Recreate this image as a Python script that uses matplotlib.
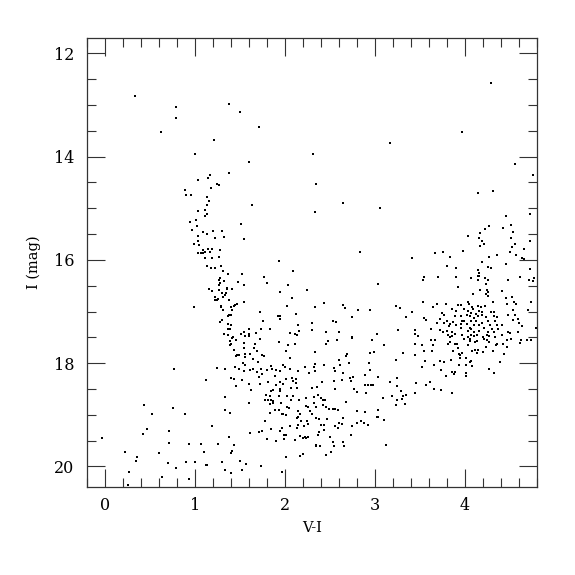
import numpy as np
import matplotlib
matplotlib.use("Agg")
import matplotlib.pyplot as plt
from matplotlib.ticker import MultipleLocator

# (V-I, I) pairs, grouped by region of the diagram
bright_stars = [
    (0.33, 12.83), (0.79, 13.04), (1.38, 12.98), (0.79, 13.26), (0.62, 13.53),
    (1.21, 13.67), (1.00, 13.95), (1.38, 14.32), (1.17, 14.35), (1.15, 14.41),
    (1.03, 14.46), (1.25, 14.53), (1.27, 14.55), (1.18, 14.60),
    (1.50, 13.14), (1.71, 13.43), (2.31, 13.94), (1.60, 14.11), (2.35, 14.53),
    (4.29, 12.57), (3.97, 13.53), (3.17, 13.74), (4.55, 14.15), (4.75, 14.36),
]

blue_branch = [
    (0.89, 14.64), (0.90, 14.75), (0.96, 14.74), (1.14, 14.79), (1.16, 14.86),
    (1.14, 14.94), (1.04, 15.06), (1.11, 15.04), (1.14, 15.11), (1.11, 15.15),
    (1.01, 15.23), (0.95, 15.26), (1.02, 15.35), (1.09, 15.46), (1.20, 15.44),
    (1.30, 15.44), (0.97, 15.42), (1.14, 15.50), (1.03, 15.53), (1.22, 15.58),
    (1.32, 15.56), (1.04, 15.63), (0.99, 15.70), (1.05, 15.72), (1.15, 15.78),
    (1.19, 15.78), (1.28, 15.81), (1.09, 15.80), (1.11, 15.84), (1.09, 15.86),
    (1.07, 15.86), (1.03, 15.87), (1.17, 15.84), (1.11, 15.97), (1.19, 15.97),
    (1.27, 15.95), (1.13, 16.11), (1.18, 16.15), (1.22, 16.16), (1.29, 16.12),
    (1.31, 16.22), (1.37, 16.27), (1.28, 16.35), (1.27, 16.38), (1.32, 16.40),
    (1.28, 16.44), (1.27, 16.48), (1.16, 16.56), (1.19, 16.60), (1.27, 16.58),
    (1.36, 16.54), (1.36, 16.57), (1.41, 16.56), (1.30, 16.65), (1.35, 16.65),
    (1.33, 16.68), (1.22, 16.72), (1.31, 16.72), (1.26, 16.76), (1.25, 16.78),
    (1.22, 16.78), (1.38, 16.78), (0.99, 16.91), (1.29, 16.89), (1.29, 16.91),
    (1.40, 16.91), (1.43, 16.89), (1.45, 16.87), (1.31, 16.98), (1.41, 16.98),
    (1.40, 17.06), (1.38, 17.06), (1.37, 17.09), (1.30, 17.17), (1.28, 17.21),
    (1.37, 17.25), (1.40, 17.27), (1.39, 17.33), (1.37, 17.34), (1.32, 17.43),
    (1.37, 17.45), (1.42, 17.49),
]

middle_field = [
    (1.63, 14.94), (2.64, 14.89), (3.06, 14.99), (2.33, 15.07), (1.51, 15.31),
    (1.55, 15.59), (2.83, 15.84), (1.93, 16.02), (2.09, 16.22), (1.52, 16.28),
    (1.77, 16.33), (1.48, 16.42), (1.80, 16.44), (1.55, 16.49), (2.03, 16.49),
    (3.03, 16.47), (1.95, 16.63), (2.24, 16.59), (2.08, 16.73), (1.47, 16.85),
    (1.55, 16.82), (2.43, 16.84), (2.02, 16.89), (2.33, 16.91), (2.65, 16.87),
    (2.67, 16.93), (2.81, 16.98), (2.94, 16.98), (1.72, 17.00), (2.12, 17.05),
    (1.92, 17.09), (1.95, 17.09), (1.94, 17.15), (2.74, 17.10), (1.76, 17.18),
    (2.53, 17.19), (2.57, 17.21), (2.30, 17.22), (2.15, 17.27), (1.73, 17.33),
    (1.83, 17.34), (1.60, 17.34), (2.30, 17.36), (2.16, 17.38), (1.54, 17.40),
    (1.68, 17.41), (2.06, 17.42), (2.46, 17.40), (2.60, 17.40), (3.02, 17.43),
    (1.51, 17.44), (1.60, 17.44), (2.11, 17.43), (2.13, 17.45), (1.56, 17.47),
    (1.60, 17.48), (2.75, 17.50),
]

red_branch = [
    (4.14, 14.71), (4.31, 14.67), (4.72, 15.11), (4.46, 15.15), (4.51, 15.32),
    (4.27, 15.35), (4.22, 15.40), (4.42, 15.39), (4.53, 15.45), (4.17, 15.48),
    (4.03, 15.54), (4.16, 15.57), (4.51, 15.58), (4.19, 15.63), (4.72, 15.64),
    (4.21, 15.69), (4.55, 15.69), (4.17, 15.73), (4.52, 15.75), (4.66, 15.78),
    (3.98, 15.82), (4.50, 15.84), (3.67, 15.87), (3.75, 15.85), (4.35, 15.90),
    (4.57, 15.90), (3.41, 15.96), (3.83, 15.94), (4.27, 15.94), (4.63, 15.96),
    (4.65, 15.99), (4.19, 16.04), (4.45, 16.08), (3.80, 16.12), (3.90, 16.15),
    (4.26, 16.13), (4.29, 16.16), (4.72, 16.17), (4.14, 16.20), (4.15, 16.26),
    (4.14, 16.31), (4.15, 16.31), (3.55, 16.34), (3.53, 16.39), (3.70, 16.34),
    (3.90, 16.34), (4.07, 16.36), (4.22, 16.36), (4.25, 16.39), (4.14, 16.38),
    (4.48, 16.38), (4.61, 16.33), (4.71, 16.39), (4.75, 16.40), (4.77, 16.36),
    (4.23, 16.47), (3.92, 16.53), (4.17, 16.58), (4.24, 16.59), (4.26, 16.63),
    (4.23, 16.67), (4.41, 16.60), (4.09, 16.67), (4.25, 16.70), (4.45, 16.74),
    (4.52, 16.72), (4.54, 16.81), (4.47, 16.86), (4.57, 16.85), (4.73, 16.82),
    (3.53, 16.81), (3.23, 16.90), (3.28, 16.94), (4.31, 16.82),
]

red_clump = [
    (3.69, 16.86), (3.79, 16.86), (3.92, 16.87), (3.96, 16.87), (4.03, 16.82),
    (4.04, 16.85), (4.08, 16.91), (4.14, 16.90), (4.18, 16.91), (4.22, 16.89),
    (3.65, 16.92), (3.85, 16.95), (3.99, 16.96), (4.09, 16.96), (4.15, 16.99),
    (3.74, 17.02), (3.90, 16.99), (4.03, 16.99), (4.07, 17.03), (4.12, 17.05),
    (4.19, 17.01), (4.29, 17.01), (4.32, 17.00), (4.53, 16.98), (4.70, 16.98),
    (3.41, 17.01), (3.35, 17.11), (3.54, 17.12), (3.57, 17.16), (3.72, 17.15),
    (3.77, 17.07), (3.89, 17.09), (3.95, 17.09), (4.02, 17.07), (4.05, 17.09),
    (4.10, 17.12), (4.14, 17.09), (4.19, 17.07), (4.23, 17.11), (4.32, 17.09),
    (4.36, 17.11), (4.48, 17.07), (4.55, 17.07), (4.59, 17.15), (4.53, 17.16),
    (3.80, 17.18), (3.87, 17.20), (3.97, 17.19), (3.99, 17.18), (4.07, 17.18),
    (4.12, 17.19), (4.25, 17.18), (4.33, 17.19), (3.69, 17.23), (3.77, 17.23),
    (3.83, 17.25), (3.90, 17.26), (3.95, 17.25), (4.02, 17.25), (4.10, 17.26),
    (4.15, 17.26), (4.19, 17.22), (4.28, 17.27), (4.35, 17.27), (4.41, 17.26),
    (4.60, 17.22), (4.63, 17.29), (3.62, 17.33), (3.26, 17.36), (3.45, 17.36),
    (3.82, 17.29), (3.95, 17.31), (4.05, 17.32), (4.07, 17.34), (4.21, 17.32),
    (4.30, 17.33), (4.37, 17.34), (3.72, 17.36), (3.80, 17.37), (3.86, 17.39),
    (4.03, 17.38), (4.10, 17.40), (4.15, 17.37), (4.25, 17.40), (4.32, 17.40),
    (4.48, 17.39), (4.59, 17.40), (3.75, 17.40), (3.81, 17.45), (3.89, 17.43),
    (3.44, 17.43), (3.48, 17.47), (3.97, 17.45), (4.07, 17.45), (4.10, 17.48),
    (4.13, 17.46), (4.24, 17.45), (4.27, 17.47), (4.41, 17.46), (4.50, 17.42),
    (4.79, 17.31), (3.83, 17.49), (3.86, 17.48), (4.03, 17.49), (4.20, 17.50),
    (4.33, 17.49),
]

faint_blue = [
    (1.39, 17.57), (1.40, 17.62), (1.39, 17.64), (1.46, 17.56), (1.41, 17.51),
    (1.44, 17.74), (1.46, 17.86), (0.77, 18.12), (1.25, 18.09), (1.33, 18.11),
    (1.45, 18.08), (1.12, 18.32), (1.40, 18.28), (1.43, 18.31), (1.46, 18.45),
    (1.33, 18.65), (1.33, 18.90), (1.39, 18.96), (0.44, 18.82), (0.76, 18.86),
    (0.52, 18.99), (0.89, 18.98), (1.19, 19.21), (-0.03, 19.45), (0.47, 19.28),
    (0.42, 19.38), (0.71, 19.32), (0.71, 19.54), (0.94, 19.56), (1.07, 19.56),
    (1.26, 19.56), (1.38, 19.43), (1.43, 19.58), (1.41, 19.71), (1.40, 19.74),
    (0.22, 19.72), (0.36, 19.81), (0.35, 19.90), (0.60, 19.74), (1.10, 19.73),
    (0.70, 19.93), (0.90, 19.92), (1.00, 19.91), (0.79, 20.03), (1.12, 19.98),
    (1.13, 19.98), (1.30, 19.92), (1.34, 20.07), (1.40, 20.12), (0.27, 20.11),
    (0.64, 20.20), (0.94, 20.25), (0.26, 20.36),
]

faint_middle = [
    (1.72, 17.53), (1.93, 17.59), (2.03, 17.64), (2.11, 17.62), (1.55, 17.61),
    (1.55, 17.70), (1.67, 17.62), (1.66, 17.71), (1.69, 17.76), (1.61, 17.82),
    (1.56, 17.82), (1.56, 17.89), (1.47, 17.84), (1.49, 17.85), (1.65, 17.92),
    (1.75, 17.84), (1.77, 17.86), (2.01, 17.76), (2.06, 17.90), (2.33, 17.79),
    (2.46, 17.62), (2.48, 17.58), (2.58, 17.56), (2.75, 17.51), (2.97, 17.55),
    (3.10, 17.65), (2.69, 17.82), (2.68, 17.87), (2.95, 17.81), (2.99, 17.79),
    (2.60, 17.93), (2.71, 17.99), (2.93, 17.99), (1.53, 18.00), (1.56, 18.03),
    (1.70, 17.98), (1.98, 18.04), (2.00, 18.08), (1.84, 18.05), (1.86, 18.11),
    (2.33, 18.02), (2.32, 18.08), (2.43, 18.03), (2.54, 18.09), (2.61, 18.04),
    (1.49, 18.11), (1.55, 18.15), (1.61, 18.13), (1.64, 18.11), (1.69, 18.18),
    (1.73, 18.11), (1.74, 18.21), (1.80, 18.13), (1.90, 18.14), (1.94, 18.15),
    (2.06, 18.11), (2.14, 18.16), (2.22, 18.08), (2.27, 18.20), (2.33, 18.15),
    (2.56, 18.16), (2.64, 18.19), (2.72, 18.29), (2.76, 18.27), (2.63, 18.33),
    (2.89, 18.23), (2.95, 18.13), (3.03, 18.27), (1.52, 18.33), (1.60, 18.40),
    (1.62, 18.53), (1.71, 18.27), (1.72, 18.41), (1.81, 18.37), (1.89, 18.24),
    (1.90, 18.43), (1.94, 18.37), (1.98, 18.40), (2.01, 18.31), (2.08, 18.29),
    (2.09, 18.35), (2.12, 18.30), (2.12, 18.38), (2.07, 18.48), (2.13, 18.48),
    (2.30, 18.49), (2.36, 18.47), (2.41, 18.36), (2.55, 18.34), (2.56, 18.51),
    (2.73, 18.35), (2.77, 18.50), (2.89, 18.42), (2.92, 18.43), (2.96, 18.43),
    (2.98, 18.42), (2.90, 18.58), (2.80, 18.56), (3.09, 18.67), (1.79, 18.61),
    (1.85, 18.54), (1.87, 18.53), (1.94, 18.51), (1.95, 18.54), (1.83, 18.63),
    (1.78, 18.71), (1.84, 18.72), (1.87, 18.74), (1.81, 18.71), (1.93, 18.64),
    (2.02, 18.63), (2.09, 18.64), (2.07, 18.72), (2.16, 18.71), (2.23, 18.67),
    (2.32, 18.65), (2.37, 18.62), (2.40, 18.67), (2.42, 18.71), (2.45, 18.71),
    (2.46, 18.85), (2.49, 18.88), (2.53, 18.88), (2.56, 18.88), (2.59, 18.91),
    (2.42, 18.82), (1.60, 18.78), (1.83, 18.80), (1.87, 18.78), (1.96, 18.78),
    (2.02, 18.85), (2.04, 18.87), (1.89, 18.90), (1.83, 18.96), (1.93, 18.91),
    (1.97, 18.98), (1.98, 18.98), (2.14, 18.92), (2.23, 18.83), (2.26, 18.85),
    (2.32, 18.77), (2.34, 18.84), (2.28, 18.92), (2.30, 18.98), (2.34, 19.07),
    (2.38, 19.09), (2.17, 18.99), (2.15, 19.05), (2.13, 19.07), (2.18, 19.12),
    (2.24, 19.12), (2.26, 19.18), (2.21, 19.22), (2.13, 19.26), (2.15, 19.19),
    (2.01, 19.01), (2.06, 19.21), (1.97, 19.25), (1.84, 19.27), (1.78, 19.13),
    (1.61, 19.36), (1.71, 19.34), (1.75, 19.31), (1.80, 19.46), (1.94, 19.32),
    (1.99, 19.39), (2.01, 19.40), (1.99, 19.47), (1.90, 19.51), (2.11, 19.49),
    (2.17, 19.41), (2.20, 19.45), (2.22, 19.43), (2.23, 19.45), (2.26, 19.43),
    (2.37, 19.39), (2.38, 19.34), (2.40, 19.20), (2.43, 19.20), (2.43, 19.29),
    (2.47, 19.08), (2.56, 19.22), (2.59, 19.25), (2.60, 19.16), (2.63, 19.18),
    (2.65, 19.07), (2.50, 19.43), (2.53, 19.52), (2.54, 19.61), (2.51, 19.72),
    (2.46, 19.78), (2.34, 19.58), (2.35, 19.61), (2.39, 19.60), (2.65, 19.52),
    (2.66, 19.61), (2.73, 19.39), (2.75, 19.21), (2.80, 19.16), (2.84, 19.13),
    (2.88, 19.15), (2.92, 19.20), (2.80, 18.92), (2.89, 18.94), (3.02, 19.04),
    (3.03, 19.04), (3.03, 18.91), (3.10, 19.11), (3.12, 19.58), (2.68, 18.76),
    (2.20, 19.76), (2.17, 19.80), (2.01, 19.81), (1.73, 19.99), (1.57, 19.96),
    (1.50, 19.90), (1.52, 20.07), (1.97, 20.11),
]

faint_red = [
    (3.62, 17.56), (3.67, 17.56), (3.45, 17.62), (3.52, 17.65), (3.64, 17.65),
    (3.81, 17.63), (3.83, 17.59), (3.89, 17.63), (3.91, 17.62), (3.99, 17.53),
    (4.05, 17.58), (4.06, 17.53), (4.11, 17.59), (4.13, 17.58), (4.21, 17.54),
    (4.24, 17.56), (4.27, 17.60), (4.34, 17.64), (4.36, 17.62), (4.42, 17.62),
    (4.47, 17.56), (4.51, 17.53), (4.62, 17.56), (4.61, 17.61), (4.69, 17.56),
    (4.73, 17.55), (4.03, 17.64), (3.31, 17.80), (3.44, 17.85), (3.54, 17.76),
    (3.63, 17.76), (3.87, 17.76), (3.92, 17.70), (3.93, 17.82), (3.94, 17.85),
    (3.94, 17.91), (3.97, 17.80), (4.01, 17.90), (4.08, 17.77), (4.11, 17.74),
    (4.14, 17.74), (4.13, 17.80), (4.20, 17.78), (4.23, 17.69), (4.31, 17.76),
    (4.43, 17.82), (4.47, 17.69), (3.23, 17.94), (3.56, 17.95), (3.72, 17.96),
    (3.77, 17.98), (3.84, 17.94), (3.93, 18.04), (4.01, 18.04), (4.05, 17.98),
    (4.07, 17.96), (4.08, 18.05), (4.39, 17.97), (3.52, 18.08), (3.66, 18.03),
    (3.73, 18.14), (3.86, 18.18), (3.89, 18.17), (3.88, 18.21), (3.79, 18.24),
    (4.01, 18.19), (4.01, 18.24), (4.27, 18.11), (4.32, 18.20), (3.17, 18.36),
    (3.24, 18.29), (3.24, 18.45), (3.46, 18.38), (3.61, 18.36), (3.57, 18.42),
    (3.66, 18.50), (3.73, 18.53), (3.29, 18.54), (3.19, 18.64), (3.31, 18.64),
    (3.35, 18.62), (3.45, 18.57), (3.85, 18.58), (3.30, 18.69), (3.24, 18.72),
    (3.23, 18.81), (3.33, 18.80),
]

x_ticks = [0, 1, 2, 3, 4]
y_ticks = [12, 14, 16, 18, 20]

groups = [bright_stars, blue_branch, middle_field, red_branch,
          red_clump, faint_blue, faint_middle, faint_red]
pts = np.array([p for g in groups for p in g])

plt.rcParams['font.family'] = ['DejaVu Serif']

fig = plt.figure(figsize=(5.75, 5.75), dpi=100)
ax = fig.add_axes([0.151, 0.153, 0.783, 0.781])
ax.scatter(pts[:, 0], pts[:, 1], s=2.2, marker='s', c='black', linewidths=0)

ax.set_xlim(-0.2, 4.8)
ax.set_ylim(20.4, 11.7)
ax.set_xticks(x_ticks)
ax.set_yticks(y_ticks)
ax.xaxis.set_minor_locator(MultipleLocator(0.2))
ax.yaxis.set_minor_locator(MultipleLocator(0.5))
ax.tick_params(which='both', direction='in', top=True, right=True,
               width=0.8, color='#333333')
ax.tick_params(which='major', length=13, labelsize=11.5, pad=7)
ax.tick_params(axis='y', which='major', pad=9)
ax.tick_params(which='minor', length=6.5)
for s in ax.spines.values():
    s.set_linewidth(0.9)
    s.set_color('#333333')

ax.set_xlabel('V-I', fontsize=10.5, labelpad=5)
ax.set_ylabel('I (mag)', fontsize=10.5, labelpad=9)

fig.savefig('out.png', dpi=100)
